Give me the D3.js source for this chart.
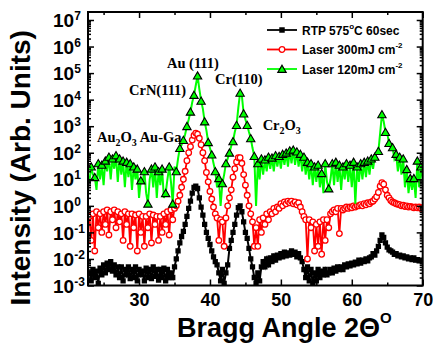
<!DOCTYPE html>
<html>
<head>
<meta charset="utf-8">
<script src="https://cdn.jsdelivr.net/npm/d3@7"></script>
<style>
  body { margin: 0; background: #fff; }
  svg text { font-family: "Liberation Sans", Arial, sans-serif; font-weight: bold; }
  svg text.peak { font-family: "Liberation Serif", "Times New Roman", serif; }
</style>
</head>
<body>
<div id="chart"></div>
<script>
// scan grid of the diffractometer (2 theta, degrees)
const angleStart = 23, angleStep = 0.25;

// RTP 575 C 60 sec
const rtp = [
  3e-3, 1.5e-3, 4e-3, 2e-3, 3.5e-3, 1.2e-3, 4.5e-3, 2.5e-3,
  6e-3, 3e-3, 7e-3, 4e-3, 8e-3, 3.5e-3, 6e-3, 2.5e-3,
  5e-3, 2e-3, 5e-3, 1.5e-3, 4e-3, 2.5e-3, 5e-3, 1.8e-3,
  4e-3, 2e-3, 5e-3, 1.5e-3, 4e-3, 2.5e-3, 3.5e-3, 1.5e-3,
  4.5e-3, 2e-3, 4e-3, 1.8e-3, 5e-3, 2.2e-3, 4e-3, 1.6e-3,
  4e-3, 2e-3, 4.5e-3, 1.5e-3, 4e-3, 2e-3, 3e-3, 2e-3,
  5e-3, 0.01, 0.02, 0.04, 0.07, 0.11, 0.2, 0.4,
  0.8, 1.5, 3, 5, 5.5, 4.5, 2, 0.9,
  0.45, 0.2, 0.1, 0.06, 0.035, 0.02, 0.012, 8e-3,
  6e-3, 3e-3, 1.5e-3, 4e-3, 1.2e-3, 3e-3, 6e-3, 0.025,
  0.05, 0.1, 0.2, 0.45, 0.85, 1.0, 0.6, 0.25,
  0.1, 0.06, 0.025, 0.01, 5e-3, 2e-3, 1.2e-3, 3e-3,
  1.5e-3, 5e-3, 8e-3, 5e-3, 0.01, 6e-3, 0.011, 8e-3,
  0.013, 0.009, 0.014, 0.011, 0.016, 0.012, 0.018, 0.013,
  0.017, 0.014, 0.02, 0.015, 0.018, 0.012, 0.016, 0.011,
  8e-3, 4e-3, 2e-3, 5e-3, 1.5e-3, 4e-3, 1.2e-3, 3e-3,
  1.5e-3, 4e-3, 2e-3, 3.5e-3, 2.5e-3, 4e-3, 2.5e-3, 3e-3,
  4e-3, 3e-3, 4.5e-3, 3.5e-3, 5e-3, 4e-3, 5e-3, 4e-3,
  6e-3, 5e-3, 6.5e-3, 5.5e-3, 7e-3, 6e-3, 7.5e-3, 6.5e-3,
  9e-3, 7e-3, 9e-3, 8e-3, 0.01, 8.5e-3, 0.011, 0.012,
  0.016, 0.014, 0.02, 0.03, 0.05, 0.08, 0.065, 0.04,
  0.028, 0.022, 0.02, 0.018, 0.015, 0.016, 0.013, 0.014,
  0.012, 0.013, 0.011, 0.012, 0.01, 0.011, 0.0095, 0.011,
  0.009, 0.0095, 0.0085, 0.009, 0.008
];

// Laser 300 mJ cm-2
const laser300 = [
  0.4, 0.05, 0.5, 0.02, 0.6, 0.15, 0.5, 0.1,
  0.6, 0.2, 0.7, 0.08, 0.6, 0.3, 0.7, 0.15,
  0.6, 0.25, 0.5, 0.05, 0.6, 0.2, 0.5, 0.03,
  0.5, 0.15, 0.45, 0.02, 0.5, 0.1, 0.4, 0.03,
  0.4, 0.15, 0.5, 0.04, 0.45, 0.2, 0.4, 0.05,
  0.4, 0.1, 0.5, 0.2, 0.6, 0.08, 0.7, 0.3,
  0.8, 1.0, 1.5, 2.5, 5, 10, 20, 50,
  100, 170, 300, 450, 550, 500, 350, 200,
  100, 50, 18, 8, 3.5, 1.8, 0.9, 0.5,
  0.35, 0.05, 0.3, 0.25, 0.03, 0.35, 1.0, 2.0,
  4, 12, 25, 45, 65, 65, 40, 15,
  6, 2.5, 1.0, 0.5, 0.25, 0.03, 0.15, 0.03,
  0.3, 0.1, 0.35, 0.2, 0.5, 0.3, 0.6, 0.5,
  0.8, 0.6, 0.9, 0.8, 1.2, 1.0, 1.4, 1.2,
  1.5, 1.3, 1.5, 1.2, 1.4, 1.1, 1.3, 0.9,
  0.6, 0.4, 0.3, 0.01, 0.3, 0.15, 0.25, 0.02,
  0.2, 0.03, 0.25, 0.015, 0.3, 0.05, 0.3, 0.15,
  0.5, 0.6, 0.7, 0.6, 0.8, 0.09, 0.8, 0.7,
  0.8, 0.9, 0.8, 0.9, 0.85, 1.0, 0.9, 1.0,
  1.0, 1.1, 1.0, 1.2, 1.1, 1.3, 1.2, 1.4,
  1.5, 1.8, 2.2, 3.2, 5.5, 7.5, 6.5, 4,
  2.5, 2.0, 1.6, 1.4, 1.3, 1.2, 1.15, 1.1,
  1.0, 1.05, 0.95, 1.0, 0.9, 0.95, 0.9, 0.85,
  0.9, 0.85, 0.9, 0.8, 0.85
];

// Laser 120 mJ cm-2
const laser120 = [
  8, 30, 15, 12, 4, 40, 10, 35,
  6, 50, 20, 70, 10, 60, 25, 80,
  8, 60, 15, 50, 5, 45, 12, 40,
  4, 30, 10, 25, 2, 9, 8, 20,
  3, 1.2, 10, 25, 5, 30, 2, 20,
  6, 25, 2, 3, 10, 30, 8, 1.2,
  30, 20, 60, 150, 200, 300, 500, 1000,
  1800, 3500, 8000, 1.5e4, 3.5e4, 8e4, 2.5e4, 9000,
  4500, 1500, 700, 250, 150, 85, 40, 20,
  5, 11, 1, 7, 15, 40, 60, 100,
  180, 270, 600, 1100, 5000, 1.8e4, 1.4e4, 3000,
  1800, 1100, 600, 350, 150, 75, 1, 40,
  10, 60, 15, 55, 20, 70, 25, 65,
  20, 80, 30, 75, 25, 90, 35, 100,
  30, 120, 40, 130, 35, 110, 30, 90,
  20, 70, 15, 45, 10, 40, 6, 30,
  8, 35, 5, 17, 3, 40, 8, 4.5,
  10, 40, 6, 45, 8, 35, 4, 30,
  10, 40, 8, 35, 5, 45, 1.2, 30,
  8, 40, 10, 45, 12, 50, 15, 60,
  25, 70, 100, 115, 550, 2800, 1500, 600,
  550, 230, 200, 160, 60, 90, 20, 70,
  15, 60, 5, 24, 3, 11, 4, 11,
  2, 50, 5, 30, 10
];

const xTicks = [30, 40, 50, 60, 70];
const xMinorTicks = [25, 35, 45, 55, 65];
const yExponents = [-3, -2, -1, 0, 1, 2, 3, 4, 5, 6, 7];

const legendLabels = [
  ["RTP 575", "o", "C 60sec"],
  ["Laser 300mJ cm", "-2", ""],
  ["Laser 120mJ cm", "-2", ""]
];

// peak names, placed at (angle, intensity) of their left baseline
const peakLabels = [
  {parts: [["Au (111)", 0]], angle: 33.93, value: 1.5e5},
  {parts: [["CrN(111)", 0]], angle: 28.58, value: 1.5e4},
  {parts: [["Cr(110)", 0]], angle: 40.71, value: 4e4},
  {parts: [["Au", 0], ["2", 1], ["O", 0], ["3", 1], [" Au-Ga", 0]], angle: 24.07, value: 250},
  {parts: [["Cr", 0], ["2", 1], ["O", 0], ["3", 1]], angle: 47.43, value: 700}
];

const W = 433, H = 345;
const plot = {left: 88, right: 422.7, top: 12, bottom: 285.5};

const svg = d3.select("#chart").append("svg")
    .attr("width", W)
    .attr("height", H);

const x = d3.scaleLinear([22.8, 70], [plot.left, plot.right]);
const y = d3.scaleLog([1e-3, 2e7], [plot.bottom, plot.top]);

const toPoints = vals => vals.map((v, i) => ({a: angleStart + i * angleStep, v: v}));

const line = d3.line()
    .x(d => x(d.a))
    .y(d => y(d.v));

const series = [
  {data: toPoints(rtp), color: "#000000"},
  {data: toPoints(laser300), color: "#ff0000"},
  {data: toPoints(laser120), color: "#00ff00"}
];

svg.append("clipPath").attr("id", "clip")
    .append("rect")
    .attr("x", plot.left).attr("y", plot.top)
    .attr("width", plot.right - plot.left).attr("height", plot.bottom - plot.top);

const body = svg.append("g").attr("clip-path", "url(#clip)");

const square = d3.symbol(d3.symbolSquare, 28);
const triangle = d3.symbol(d3.symbolTriangle, 30);

// RTP: black line, filled squares on every point
body.append("path")
    .attr("d", line(series[0].data))
    .attr("fill", "none").attr("stroke", "#000").attr("stroke-width", 2);
body.append("g").selectAll("path")
    .data(series[0].data)
    .join("path")
    .attr("transform", d => `translate(${x(d.a)},${y(d.v)})`)
    .attr("d", square)
    .attr("fill", "#000");

// Laser 300: red line, open circles
body.append("path")
    .attr("d", line(series[1].data))
    .attr("fill", "none").attr("stroke", "#ff0000").attr("stroke-width", 1.8);
body.append("g").selectAll("circle")
    .data(series[1].data)
    .join("circle")
    .attr("cx", d => x(d.a))
    .attr("cy", d => y(d.v))
    .attr("r", 2.8)
    .attr("fill", "#fff")
    .attr("stroke", "#ff0000")
    .attr("stroke-width", 1.3);

// Laser 120: green line, triangles on every other point
body.append("path")
    .attr("d", line(series[2].data))
    .attr("fill", "none").attr("stroke", "#00ff00").attr("stroke-width", 2);
body.append("g").selectAll("path")
    .data(series[2].data.filter((d, i) => i % 2 === 1))
    .join("path")
    .attr("transform", d => `translate(${x(d.a)},${y(d.v) + 1})`)
    .attr("d", triangle)
    .attr("fill", "#00ff00")
    .attr("stroke", "#000")
    .attr("stroke-width", 1.1);

// axes, ticks pointing inwards
const styleAxis = (g, fs) => {
  g.select(".domain").remove();
  g.selectAll("line").attr("stroke-width", 1.5);
  g.attr("font-size", fs).attr("font-family", null);
};

svg.append("g")
    .attr("transform", `translate(0,${plot.bottom})`)
    .call(d3.axisBottom(x).tickValues(xTicks).tickSize(-6).tickPadding(8))
    .call(g => styleAxis(g, 18));
svg.append("g")
    .attr("transform", `translate(0,${plot.bottom})`)
    .call(d3.axisBottom(x).tickValues(xMinorTicks).tickSize(-3).tickFormat(""))
    .call(g => styleAxis(g, 10));
svg.append("g")
    .attr("transform", `translate(0,${plot.top})`)
    .call(d3.axisTop(x).tickValues(xTicks).tickSize(-6).tickFormat(""))
    .call(g => styleAxis(g, 10));
svg.append("g")
    .attr("transform", `translate(0,${plot.top})`)
    .call(d3.axisTop(x).tickValues(xMinorTicks).tickSize(-3).tickFormat(""))
    .call(g => styleAxis(g, 10));

const decades = yExponents.map(e => Math.pow(10, e));
const minorY = [];
yExponents.slice(0, -1).forEach(e => {
  for (let k = 2; k <= 9; k++) minorY.push(k * Math.pow(10, e));
});

svg.append("g")
    .attr("transform", `translate(${plot.left},0)`)
    .call(d3.axisLeft(y).tickValues(decades).tickSize(-6).tickFormat(""))
    .call(g => styleAxis(g, 19))
    .call(g => g.selectAll(".tick text")
        .attr("x", -35)
        .attr("dy", "0.35em")
        .attr("text-anchor", "start")
        .each(function (d) {
          const t = d3.select(this);
          t.append("tspan").text("10");
          t.append("tspan").attr("dy", -7).attr("font-size", 12)
              .text(Math.round(Math.log10(d)));
        }));
svg.append("g")
    .attr("transform", `translate(${plot.left},0)`)
    .call(d3.axisLeft(y).tickValues(minorY).tickSize(-3).tickFormat(""))
    .call(g => styleAxis(g, 10));
svg.append("g")
    .attr("transform", `translate(${plot.right},0)`)
    .call(d3.axisRight(y).tickValues(decades).tickSize(-6).tickFormat(""))
    .call(g => styleAxis(g, 10));
svg.append("g")
    .attr("transform", `translate(${plot.right},0)`)
    .call(d3.axisRight(y).tickValues(minorY).tickSize(-3).tickFormat(""))
    .call(g => styleAxis(g, 10));

// frame
svg.append("rect")
    .attr("x", plot.left).attr("y", plot.top)
    .attr("width", plot.right - plot.left).attr("height", plot.bottom - plot.top)
    .attr("fill", "none").attr("stroke", "#000").attr("stroke-width", 2);

// axis titles
svg.append("text")
    .attr("transform", `translate(30,${(plot.top + plot.bottom) / 2 + 19}) rotate(-90)`)
    .attr("text-anchor", "middle")
    .attr("font-size", 28)
    .text("Intensity (Arb. Units)");

const xt = svg.append("text")
    .attr("x", 177).attr("y", 337)
    .attr("font-size", 27);
xt.append("tspan").text("Bragg Angle 2\u0398");
xt.append("tspan").attr("dy", -14).attr("font-size", 15).text("O");

// peak names
peakLabels.forEach(p => {
  const t = svg.append("text")
      .attr("class", "peak")
      .attr("x", x(p.angle))
      .attr("y", y(p.value))
      .attr("font-size", 14.5);
  let shift = 0;
  p.parts.forEach(([s, sub]) => {
    const dy = (sub ? 4 : 0) - shift;
    shift = sub ? 4 : 0;
    t.append("tspan").attr("dy", dy).attr("font-size", sub ? 10 : 14.5).text(s);
  });
});

// legend
const legend = svg.append("g");
const rowY = [30, 49.5, 69];
legendLabels.forEach((lab, i) => {
  const g = legend.append("g").attr("transform", `translate(0,${rowY[i]})`);
  g.append("line")
      .attr("x1", 267).attr("x2", 297)
      .attr("stroke", series[i].color).attr("stroke-width", 1.8);
  if (i === 0) {
    g.append("path").attr("transform", "translate(282,0)")
        .attr("d", d3.symbol(d3.symbolSquare, 30)).attr("fill", "#000");
  } else if (i === 1) {
    g.append("circle").attr("cx", 282).attr("r", 2.8)
        .attr("fill", "#fff").attr("stroke", "#ff0000").attr("stroke-width", 1.3);
  } else {
    g.append("path").attr("transform", "translate(282,1)")
        .attr("d", d3.symbol(d3.symbolTriangle, 30))
        .attr("fill", "#00ff00").attr("stroke", "#000").attr("stroke-width", 1.2);
  }
  const t = g.append("text").attr("x", 302).attr("y", 4.5).attr("font-size", 12);
  t.append("tspan").text(lab[0]);
  t.append("tspan").attr("dy", -6).attr("font-size", 8).text(lab[1]);
  t.append("tspan").attr("dy", 6).text(lab[2]);
});
</script>
</body>
</html>
